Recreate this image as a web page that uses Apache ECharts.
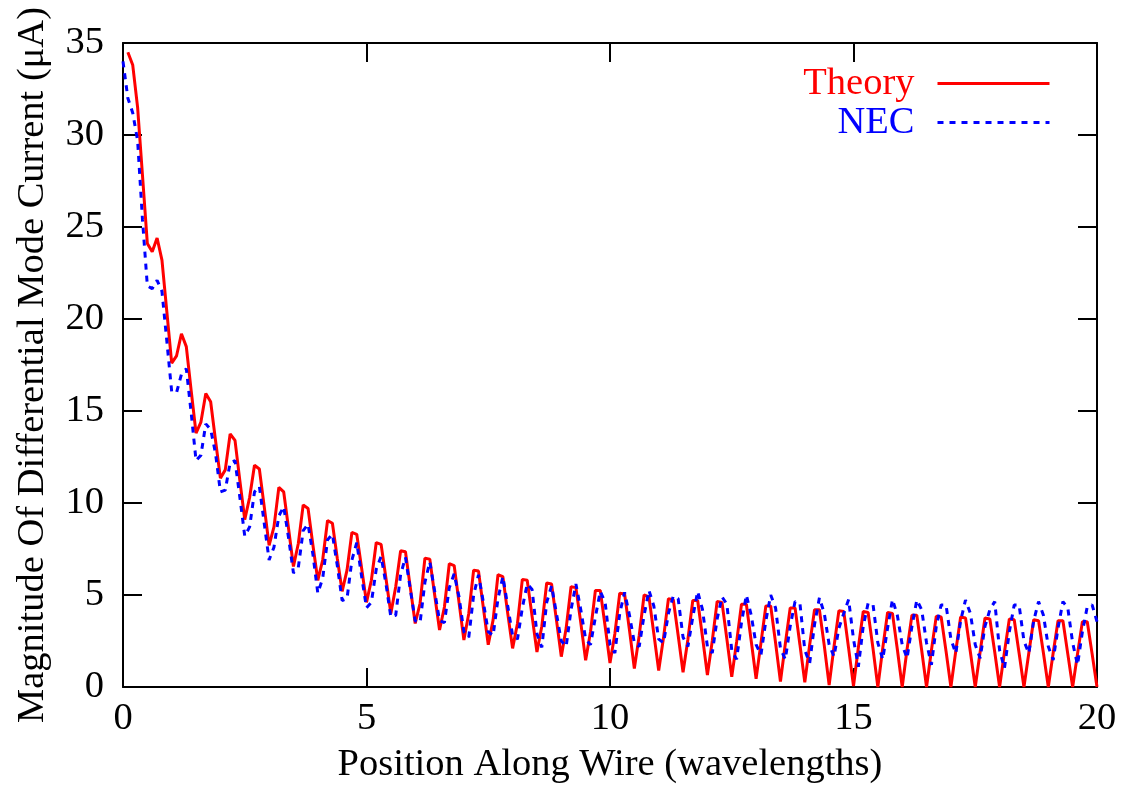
<!DOCTYPE html>
<html>
<head>
<meta charset="utf-8">
<script src="https://cdn.jsdelivr.net/npm/echarts@6/dist/echarts.min.js"></script>
<style>
html,body{margin:0;padding:0;background:#fff;}
#chart{width:1121px;height:787px;}
</style>
</head>
<body>
<div id="chart"></div>
<script>
// Sampling grid (wavelengths)
const theoryStart = 0.1, necStart = 0.0, step = 0.1;
// Theory |I| values at x = 0.1 ... 20.0
const theoryValues = [
 34.5,33.8,31.5,27.8,24.1,23.65,24.4,23.2,20.4,17.6,
 18.0,19.2,18.5,16.1,13.8,14.4,15.95,15.5,13.4,11.35,
 11.8,13.75,13.4,11.2,9.1,10.3,12.05,11.85,9.8,7.7,
 8.7,10.85,10.6,8.6,6.55,7.8,9.9,9.7,7.7,5.8,
 6.9,9.05,8.9,7.0,5.2,6.35,8.4,8.3,6.45,4.6,
 5.8,7.85,7.75,5.9,4.0,5.45,7.4,7.35,5.4,3.45,
 4.55,7.0,6.95,5.0,3.1,4.35,6.7,6.6,4.6,2.55,
 4.0,6.35,6.3,4.3,2.3,3.65,6.1,6.0,4.0,2.1,
 3.45,5.85,5.8,3.85,1.9,3.3,5.65,5.6,3.65,1.65,
 3.2,5.45,5.4,3.5,1.45,3.0,5.25,5.25,3.3,1.3,
 2.9,5.1,5.05,3.1,1.0,2.8,5.0,4.9,2.9,0.9,
 2.7,4.8,4.75,2.8,0.8,2.6,4.7,4.7,2.7,0.65,
 2.5,4.65,4.6,2.6,0.55,2.45,4.5,4.5,2.5,0.45,
 2.4,4.4,4.4,2.4,0.3,2.35,4.3,4.3,2.3,0.25,
 2.3,4.2,4.2,2.25,0.1,2.2,4.15,4.1,2.1,0.05,
 2.15,4.1,4.05,2.1,0,2.1,4.05,4.0,2.05,0,
 2.05,3.9,3.9,2.0,0,2.0,3.85,3.8,1.95,0,
 1.95,3.8,3.75,1.9,0,1.9,3.75,3.7,1.9,0,
 1.9,3.7,3.65,1.85,0,1.85,3.65,3.6,1.85,0,
 1.85,3.6,3.6,1.8,0,1.8,3.55,3.55,1.8,0
];
// NEC |I| values at x = 0.0 ... 20.0
const necValues = [
 34.0,32.0,31.2,29.7,25.4,21.8,21.65,22.1,21.5,18.8,
 16.05,16.0,17.0,17.3,14.9,12.3,12.6,14.3,14.0,12.7,
 10.6,10.7,12.2,12.3,10.3,8.2,8.7,10.6,10.9,8.9,
 6.9,7.6,9.3,9.8,8.1,6.2,6.5,8.5,8.85,7.2,
 5.1,5.9,8.0,8.3,6.6,4.7,4.8,6.9,7.85,6.0,
 4.3,4.6,6.4,7.1,5.6,3.8,3.9,6.1,7.05,5.3,
 3.6,3.5,5.7,6.8,5.2,3.6,3.5,5.4,6.15,4.9,
 3.0,2.7,5.0,6.1,4.6,3.0,2.8,4.8,6.0,4.4,
 2.8,2.6,4.3,5.6,5.3,2.9,2.15,4.6,5.5,4.0,
 2.5,2.2,4.2,5.6,4.2,2.6,2.3,3.8,5.2,4.6,
 2.3,1.85,4.0,5.15,3.9,2.4,2.2,3.9,5.25,4.4,
 2.6,2.4,4.0,4.95,4.8,2.7,2.2,3.8,5.2,4.2,
 2.2,1.85,3.7,4.9,4.5,2.0,1.5,3.5,5.0,3.9,
 2.3,1.75,3.6,5.0,4.3,2.1,1.5,3.3,4.65,4.55,
 2.0,1.3,3.4,4.85,4.0,2.3,1.65,3.2,4.0,4.75,
 2.6,1.1,3.3,4.55,4.5,2.4,1.5,3.2,4.76,3.9,
 2.3,1.56,3.3,4.73,4.2,2.4,1.2,3.3,4.46,4.46,
 2.6,1.83,3.6,4.73,4.0,2.3,1.56,3.3,4.2,4.64,
 2.0,1.02,3.0,4.46,4.46,2.5,1.83,3.6,4.64,3.9,
 2.2,1.47,3.2,4.64,4.3,2.4,1.2,3.0,4.37,4.46,
 3.55
];
const xTicks = [0, 5, 10, 15, 20];
const yTicks = [0, 5, 10, 15, 20, 25, 30, 35];
const seriesNames = ['Theory', 'NEC'];
const xTitle = 'Position Along Wire (wavelengths)';
const yTitle = 'Magnitude Of Differential Mode Current (\u03bcA)';

const FONT = 'Liberation Serif';
const FS = 38.5;
const RED = '#ff0000', BLUE = '#0000ff';
const DASH = [6, 6];
const toPairs = (vals, start) => vals.map((v, i) => [Math.round((start + i * step) * 100) / 100, v]);

const xMin = xTicks[0], xMax = xTicks[xTicks.length - 1], xInt = xTicks[1] - xTicks[0];
const yMin = yTicks[0], yMax = yTicks[yTicks.length - 1], yInt = yTicks[1] - yTicks[0];

const axisLine = {show: true, onZero: false, lineStyle: {color: '#000', width: 2}};
const axisTick = {show: true, inside: true, length: 19, lineStyle: {color: '#000', width: 2}};

const chart = echarts.init(document.getElementById('chart'), null, {renderer: 'canvas'});
chart.setOption({
  animation: false,
  backgroundColor: '#fff',
  grid: {left: 123, right: 24, top: 43, bottom: 100, containLabel: false, outerBoundsMode: 'none'},
  legend: {
    orient: 'vertical',
    align: 'right',
    right: 65,
    top: 59,
    itemWidth: 112,
    itemHeight: 14,
    itemGap: 0,
    itemStyle: {opacity: 0},
    data: [
      {name: seriesNames[0], textStyle: {color: RED},
       itemStyle: {opacity: 0}, lineStyle: {color: RED, width: 3, type: 'solid'}},
      {name: seriesNames[1], textStyle: {color: BLUE},
       itemStyle: {opacity: 0}, lineStyle: {color: BLUE, width: 3, type: DASH}}
    ],
    textStyle: {fontFamily: FONT, fontSize: FS, padding: [0, 18, 0, 0]}
  },
  xAxis: [{
    type: 'value', min: xMin, max: xMax, interval: xInt, position: 'bottom',
    axisLine: axisLine, axisTick: axisTick, splitLine: {show: false},
    axisLabel: {fontFamily: FONT, fontSize: FS, color: '#000', margin: 12},
    name: xTitle, nameLocation: 'middle', nameGap: 58,
    nameTextStyle: {fontFamily: FONT, fontSize: FS, color: '#000'}
  }, {
    type: 'value', min: xMin, max: xMax, interval: xInt, position: 'top',
    axisLine: axisLine, axisTick: axisTick, splitLine: {show: false},
    axisLabel: {show: false}
  }],
  yAxis: [{
    type: 'value', min: yMin, max: yMax, interval: yInt, position: 'left',
    axisLine: axisLine, axisTick: axisTick, splitLine: {show: false},
    axisLabel: {fontFamily: FONT, fontSize: FS, color: '#000', margin: 19},
    name: yTitle, nameLocation: 'middle', nameGap: 71,
    nameTextStyle: {fontFamily: FONT, fontSize: FS, color: '#000'}
  }, {
    type: 'value', min: yMin, max: yMax, interval: yInt, position: 'right',
    axisLine: axisLine, axisTick: axisTick, splitLine: {show: false},
    axisLabel: {show: false}
  }],
  series: [{
    name: seriesNames[0], type: 'line', xAxisIndex: 0, yAxisIndex: 0,
    data: toPairs(theoryValues, theoryStart),
    symbol: 'none', showSymbol: false,
    lineStyle: {color: RED, width: 3},
    itemStyle: {color: RED}
  }, {
    name: seriesNames[1], type: 'line', xAxisIndex: 0, yAxisIndex: 0,
    data: toPairs(necValues, necStart),
    symbol: 'none', showSymbol: false,
    lineStyle: {color: BLUE, width: 3, type: DASH},
    itemStyle: {color: BLUE}
  }]
});
</script>
</body>
</html>
